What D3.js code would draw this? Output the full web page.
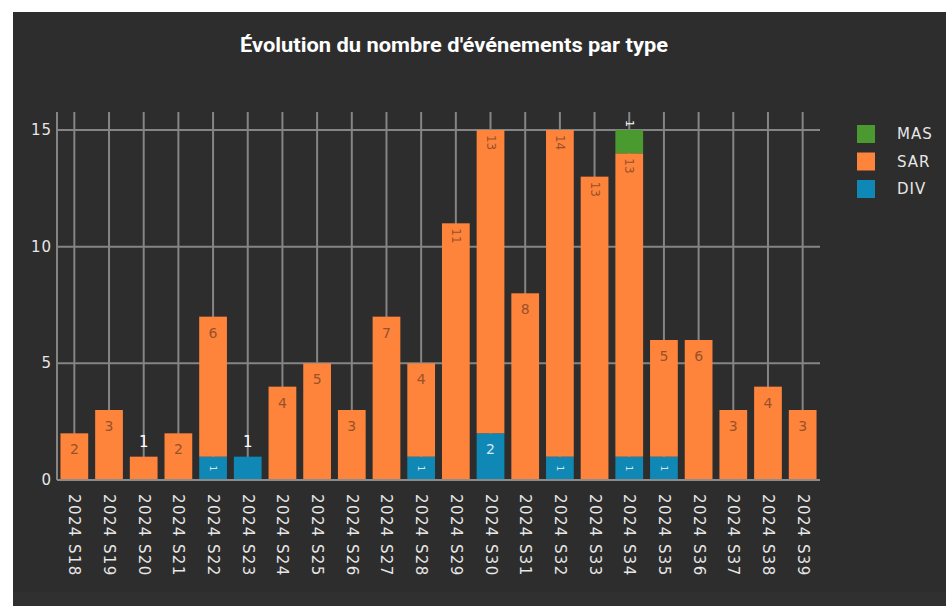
<!DOCTYPE html>
<html>
<head>
<meta charset="utf-8">
<script src="https://cdn.jsdelivr.net/npm/d3@7"></script>
<style>
  html, body { margin: 0; padding: 0; background: #ffffff; }
  svg { display: block; }
</style>
</head>
<body>
<script>
// weeks on the x axis
let weeks = ["2024 S18", "2024 S19", "2024 S20", "2024 S21", "2024 S22", "2024 S23",
             "2024 S24", "2024 S25", "2024 S26", "2024 S27", "2024 S28", "2024 S29",
             "2024 S30", "2024 S31", "2024 S32", "2024 S33", "2024 S34", "2024 S35",
             "2024 S36", "2024 S37", "2024 S38", "2024 S39"];

// counts per type (stacked bottom -> top : DIV, SAR, MAS)
let divValues = [0, 0, 0, 0, 1, 1, 0, 0, 0, 0, 1, 0, 2, 0, 1, 0, 1, 1, 0, 0, 0, 0];
let sarValues = [2, 3, 1, 2, 6, 0, 4, 5, 3, 7, 4, 11, 13, 8, 14, 13, 13, 5, 6, 3, 4, 3];
let masValues = [0, 0, 0, 0, 0, 0, 0, 0, 0, 0, 0, 0, 0, 0, 0, 0, 1, 0, 0, 0, 0, 0];

let yTicks = [0, 5, 10, 15];
let legendTypes = ["MAS", "SAR", "DIV"];

let colors = { DIV: "#0f88b6", SAR: "#fe843c", MAS: "#4b9a2f" };

let width = 946;
let height = 606;

let svg = d3.select("body").append("svg")
    .attr("width", width)
    .attr("height", height);

// dark panel
svg.append("rect")
    .attr("x", 13).attr("y", 12)
    .attr("width", width - 13).attr("height", height - 12)
    .attr("fill", "#2d2d2d");
svg.append("rect")
    .attr("x", 13).attr("y", 592)
    .attr("width", width - 13).attr("height", 14)
    .attr("fill", "#303030");

// title
svg.append("text")
    .attr("x", 454)
    .attr("y", 52)
    .attr("text-anchor", "middle")
    .attr("fill", "#ffffff")
    .style("font-family", "'Liberation Sans Narrow', 'Roboto', sans-serif")
    .style("font-weight", "bold")
    .style("font-size", "21px")
    .attr("textLength", 428)
    .attr("lengthAdjust", "spacingAndGlyphs")
    .text("Évolution du nombre d'événements par type");

let plotLeft = 57, plotRight = 820, plotTop = 112, plotBottom = 480;

let xScale = d3.scaleBand()
    .domain(weeks)
    .range([plotLeft, plotRight])
    .paddingInner(0.2)
    .paddingOuter(0.1);

let yScale = d3.scaleLinear()
    .domain([0, 15.77])
    .range([plotBottom, plotTop]);

let gridColor = "#858585";

// horizontal grid
svg.append("g").selectAll("line")
    .data(yTicks.filter(d => d > 0))
    .enter()
    .append("line")
      .attr("x1", plotLeft).attr("x2", plotRight)
      .attr("y1", d => yScale(d)).attr("y2", d => yScale(d))
      .attr("stroke", gridColor)
      .attr("stroke-width", 2);

// vertical grid at each category
svg.append("g").selectAll("line")
    .data(weeks)
    .enter()
    .append("line")
      .attr("x1", d => xScale(d) + xScale.bandwidth() / 2)
      .attr("x2", d => xScale(d) + xScale.bandwidth() / 2)
      .attr("y1", plotTop).attr("y2", plotBottom)
      .attr("stroke", gridColor)
      .attr("stroke-width", 2);

// left axis line
svg.append("line")
    .attr("x1", plotLeft).attr("x2", plotLeft)
    .attr("y1", plotTop).attr("y2", plotBottom)
    .attr("stroke", gridColor)
    .attr("stroke-width", 2);

// build stacked segments
let segments = [];
weeks.forEach(function(w, i) {
  let base = 0;
  let parts = [["DIV", divValues[i]], ["SAR", sarValues[i]], ["MAS", masValues[i]]];
  let lastIdx = -1;
  parts.forEach((p, k) => { if (p[1] > 0) lastIdx = k; });
  parts.forEach(function(p, k) {
    if (p[1] > 0) {
      segments.push({ week: w, type: p[0], value: p[1], y0: base, y1: base + p[1], isTop: k === lastIdx });
      base += p[1];
    }
  });
});

// bars
svg.append("g").selectAll("rect")
    .data(segments)
    .enter()
    .append("rect")
      .attr("x", d => xScale(d.week))
      .attr("y", d => yScale(d.y1))
      .attr("width", xScale.bandwidth())
      .attr("height", d => yScale(d.y0) - yScale(d.y1))
      .attr("fill", d => colors[d.type]);

// zero line
svg.append("line")
    .attr("x1", plotLeft).attr("x2", plotRight)
    .attr("y1", yScale(0)).attr("y2", yScale(0))
    .attr("stroke", "#8c8c8c")
    .attr("stroke-width", 2);

// bar labels
let labelFont = "'DejaVu Sans', sans-serif";
let labels = svg.append("g");
segments.forEach(function(d) {
  let cx = xScale(d.week) + xScale.bandwidth() / 2;
  let top = yScale(d.y1);
  let segH = yScale(d.y0) - top;
  let txt = String(d.value);
  let t = labels.append("text")
      .style("font-family", labelFont)
      .attr("dominant-baseline", "central");

  if (segH < 25 && d.isTop) {
    // outside label above the bar
    t.attr("fill", "#ffffff");
    if (top - 24 < plotTop) {
      t.attr("text-anchor", "end")
        .attr("transform", "translate(" + cx + "," + (top - 3) + ") rotate(90)")
        .style("font-size", "11px");
    } else {
      t.attr("text-anchor", "middle")
        .attr("x", cx).attr("y", top - 15)
        .style("font-size", "15px");
    }
  } else {
    let inColor = d.type === "SAR" ? "#98512a" : "#d8e6ee";
    t.attr("fill", inColor);
    if (txt.length > 1) {
      t.attr("text-anchor", "start")
        .attr("transform", "translate(" + cx + "," + (top + 5) + ") rotate(90)")
        .style("font-size", "12px");
    } else if (segH < 30) {
      t.attr("text-anchor", "middle")
        .attr("transform", "translate(" + cx + "," + (top + segH / 2) + ") rotate(90)")
        .style("font-size", "9px");
    } else {
      t.attr("text-anchor", "middle")
        .attr("x", cx).attr("y", top + 16)
        .style("font-size", "14px");
    }
  }
  t.text(txt);
});

// y tick labels
svg.append("g").selectAll("text")
    .data(yTicks)
    .enter()
    .append("text")
      .attr("x", 52)
      .attr("y", d => yScale(d))
      .attr("text-anchor", "end")
      .attr("dominant-baseline", "central")
      .attr("fill", "#e6e6e6")
      .style("font-family", labelFont)
      .style("font-size", "15px")
      .style("letter-spacing", "1px")
      .text(d => d);

// x tick labels, rotated
svg.append("g").selectAll("text")
    .data(weeks)
    .enter()
    .append("text")
      .attr("transform", d => "translate(" + (xScale(d) + xScale.bandwidth() / 2) + ",494) rotate(90)")
      .attr("text-anchor", "start")
      .attr("dominant-baseline", "central")
      .attr("fill", "#e6e6e6")
      .style("font-family", labelFont)
      .style("font-size", "15px")
      .style("letter-spacing", "1.4px")
      .text(d => d);

// legend
let legend = svg.append("g").attr("transform", "translate(857,125)");
legendTypes.forEach(function(type, i) {
  legend.append("rect")
      .attr("x", 0).attr("y", i * 27.5)
      .attr("width", 18).attr("height", 18)
      .attr("fill", colors[type]);
  legend.append("text")
      .attr("x", 40).attr("y", i * 27.5 + 9)
      .attr("dominant-baseline", "central")
      .attr("fill", "#e6e6e6")
      .style("font-family", labelFont)
      .style("font-size", "15px")
      .style("letter-spacing", "1px")
      .text(type);
});
</script>
</body>
</html>
